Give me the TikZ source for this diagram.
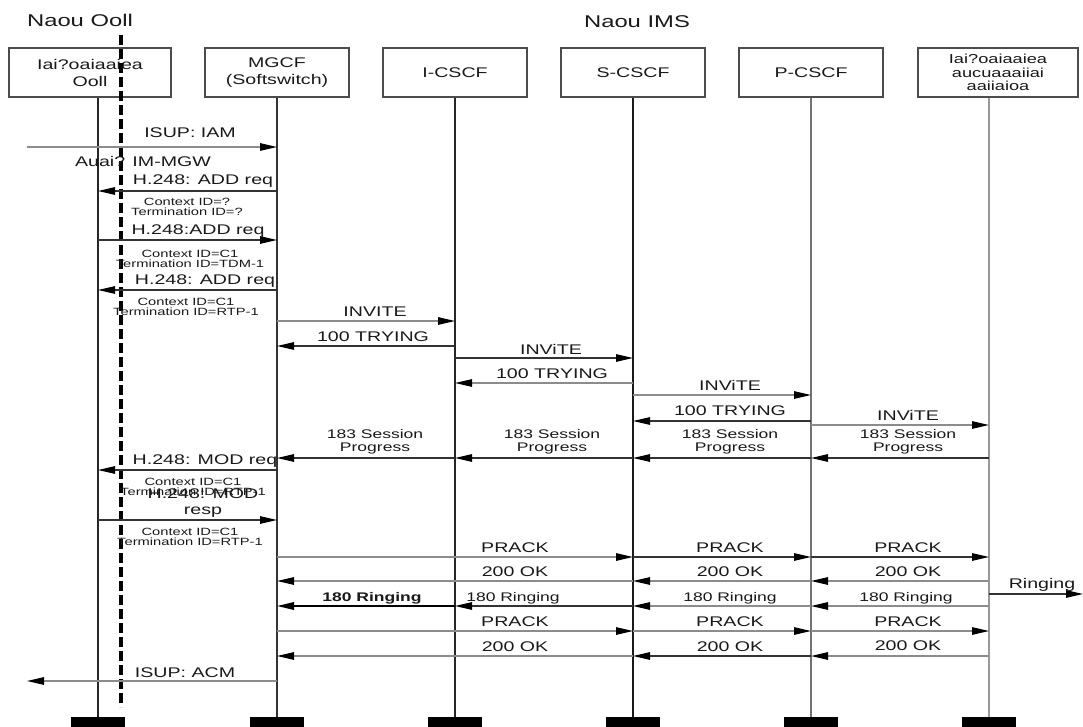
\documentclass[tikz,border=0pt]{standalone}
\usepackage{fontspec}
\setmainfont[FakeStretch=1.4]{Liberation Sans}
\usetikzlibrary{arrows.meta}
\begin{document}
\begin{tikzpicture}[x=1pt,y=-1pt,
  box/.style={draw=black!70, line width=1.3pt, fill=white, inner sep=0pt, align=center, font=\fontsize{14}{17}\selectfont, text=black!90},
  life/.style={line width=1.6pt},
  msg/.style={-{Triangle[length=17pt,width=7.5pt,color=black]}, line width=1.2pt, draw=black!80},
  msgg/.style={msg, draw=black!45},
  lbl/.style={font=\fontsize{14}{16}\selectfont, inner sep=0pt, align=center, text=black!90},
  sm/.style={font=\fontsize{10.5}{10}\selectfont, inner sep=0pt, align=center, text=black!90},
  md/.style={font=\fontsize{12.5}{13}\selectfont, inner sep=0pt, align=center, text=black!90},
  ttl/.style={font=\fontsize{17}{20}\selectfont, inner sep=0pt, text=black!90},
  bar/.style={fill=black, draw=none}]
\useasboundingbox (0,0) rectangle (1083,727);

% titles
\node[ttl] (t1) at (80,20) {Naou Ooll};
\node[ttl] (t2) at (637,22) {Naou IMS};

% boxes
\node[box, minimum width=162pt, minimum height=49pt] (bA) at (90,72.5) {Iai?oaiaaiea\\Ooll};
\node[box, minimum width=144pt, minimum height=49pt] (bM) at (277,72.5) {MGCF\\(Softswitch)};
\node[box, minimum width=144pt, minimum height=49pt] (bI) at (455,72.5) {I-CSCF};
\node[box, minimum width=144pt, minimum height=49pt] (bS) at (633,72.5) {S-CSCF};
\node[box, minimum width=144pt, minimum height=49pt] (bP) at (811,72.5) {P-CSCF};
\node[box, minimum width=160pt, minimum height=49pt, font=\fontsize{13}{13.5}\selectfont] (bU) at (998,72.5) {Iai?oaiaaiea\\aucuaaaiiai\\aaiiaioa};

% lifeline coordinates
\coordinate (LA) at (98,0);
\coordinate (LM) at (277,0);
\coordinate (LI) at (455,0);
\coordinate (LS) at (633,0);
\coordinate (LP) at (811,0);
\coordinate (LU) at (989,0);

% bottom bars
\foreach \n in {LA,LM,LI,LS,LP,LU}{
  \fill[bar] ([xshift=-27pt]\n |- 0,717) rectangle ([xshift=27pt]\n |- 0,727);
}
\coordinate (eA) at (LA |- 0,717);
\coordinate (eM) at (LM |- 0,717);
\coordinate (eI) at (LI |- 0,717);
\coordinate (eS) at (LS |- 0,717);
\coordinate (eP) at (LP |- 0,717);
\coordinate (eU) at (LU |- 0,717);

% lifelines
\draw[life, draw=black!85] (LA |- bA.south) -- (eA);
\draw[life, draw=black!80] (bM.south) -- (eM);
\draw[life, draw=black!85] (bI.south) -- (eI);
\draw[life, draw=black!90] (bS.south) -- (eS);
\draw[life, draw=black!55] (bP.south) -- (eP);
\draw[life, draw=black!40] (LU |- bU.south) -- (eU);

% dashed border
\coordinate (dTop) at (121,35);
\coordinate (dBot) at (121,707);
\draw[line width=3.5pt, dash pattern=on 10pt off 4pt] (dTop) -- (dBot);

% messages
\coordinate (inIAM) at (27,147);
\draw[msgg] (inIAM) -- (LM |- 0,147);
\node[lbl] (l1) at (190,133) {ISUP: IAM};
\node[lbl] (l2) at (143,161) {Auai? IM-MGW};

\draw[msg] (LM |- 0,191) -- (LA |- 0,191);
\node[lbl] (l3) at (203,181) {H.248: ADD req};
\node[sm] (l4) at (187,207) {Context ID=?\\Termination ID=?};

\draw[msg] (LA |- 0,240) -- (LM |- 0,240);
\node[lbl] (l5) at (198,231) {H.248:ADD req};
\node[sm] (l6) at (190,259) {Context ID=C1\\Termination ID=TDM-1};

\draw[msg] (LM |- 0,290) -- (LA |- 0,290);
\node[lbl] (l7) at (205,281) {H.248: ADD req};
\node[sm] (l8) at (186,307) {Context ID=C1\\Termination ID=RTP-1};

\draw[msgg] (LM |- 0,321) -- (LI |- 0,321);
\node[lbl] (l9) at (375,312) {INVITE};
\draw[msg] (LI |- 0,346) -- (LM |- 0,346);
\node[lbl] (l10) at (373,337) {100 TRYING};
\draw[msg] (LI |- 0,358) -- (LS |- 0,358);
\node[lbl] (l11) at (551,349) {INViTE};
\draw[msgg] (LS |- 0,383) -- (LI |- 0,383);
\node[lbl] (l12) at (552,374) {100 TRYING};
\draw[msgg] (LS |- 0,395) -- (LP |- 0,395);
\node[lbl] (l13) at (730,385) {INViTE};
\draw[msg] (LP |- 0,421) -- (LS |- 0,421);
\node[lbl] (l14) at (730,411) {100 TRYING};
\draw[msgg] (LP |- 0,425) -- (LU |- 0,425);
\node[lbl] (l15) at (908,415) {INViTE};

% 183 Session Progress
\draw[msg] (LU |- 0,458) -- (LP |- 0,458);
\draw[msg] (LP |- 0,458) -- (LS |- 0,458);
\draw[msg] (LS |- 0,458) -- (LI |- 0,458);
\draw[msg] (LI |- 0,458) -- (LM |- 0,458);
\node[md] (s1) at (908,442) {183 Session\\Progress};
\node[md] (s2) at (730,442) {183 Session\\Progress};
\node[md] (s3) at (552,442) {183 Session\\Progress};
\node[md] (s4) at (375,442) {183 Session\\Progress};

\draw[msg] (LM |- 0,470) -- (LA |- 0,470);
\node[lbl] (l17) at (205,461) {H.248: MOD req};
\node[sm] (l18) at (193,487) {Context ID=C1\\Termination ID=RTP-1};
\node[lbl] (l19) at (203,503) {H.248: MOD\\resp};
\draw[msg] (LA |- 0,520) -- (LM |- 0,520);
\node[sm] (l20) at (190,537) {Context ID=C1\\Termination ID=RTP-1};

% PRACK 1
\draw[msgg] (LM |- 0,557) -- (LS |- 0,557);
\draw[msg] (LS |- 0,557) -- (LP |- 0,557);
\draw[msg] (LP |- 0,557) -- (LU |- 0,557);
\node[lbl] (p1) at (515,548) {PRACK};
\node[lbl] (p2) at (730,548) {PRACK};
\node[lbl] (p3) at (908,548) {PRACK};

% 200 OK 1
\draw[msgg] (LU |- 0,581) -- (LP |- 0,581);
\draw[msgg] (LP |- 0,581) -- (LS |- 0,581);
\draw[msgg] (LS |- 0,581) -- (LM |- 0,581);
\node[lbl] (o1) at (908,572) {200 OK};
\node[lbl] (o2) at (730,572) {200 OK};
\node[lbl] (o3) at (515,572) {200 OK};

% Ringing out
\coordinate (outR) at (1083,594);
\draw[msg] (LU |- 0,594) -- (outR);
\node[lbl] (r0) at (1042,585) {Ringing};

% 180 Ringing
\draw[msgg] (LU |- 0,606) -- (LP |- 0,606);
\draw[msgg] (LP |- 0,606) -- (LS |- 0,606);
\draw[msg] (LS |- 0,606) -- (LI |- 0,606);
\draw[msg, line width=1.8pt, draw=black] (LI |- 0,606) -- (LM |- 0,606);
\node[md] (r1) at (906,598) {180 Ringing};
\node[md] (r2) at (730,598) {180 Ringing};
\node[md] (r3) at (513,598) {180 Ringing};
\node[md, font=\fontsize{12.5}{13}\selectfont\bfseries] (r4) at (372,598) {180 Ringing};

% PRACK 2
\draw[msgg] (LM |- 0,631) -- (LS |- 0,631);
\draw[msgg] (LS |- 0,631) -- (LP |- 0,631);
\draw[msgg] (LP |- 0,631) -- (LU |- 0,631);
\node[lbl] (q1) at (515,622) {PRACK};
\node[lbl] (q2) at (730,622) {PRACK};
\node[lbl] (q3) at (908,622) {PRACK};

% 200 OK 2
\draw[msgg] (LU |- 0,656) -- (LP |- 0,656);
\draw[msg] (LP |- 0,656) -- (LS |- 0,656);
\draw[msgg] (LS |- 0,656) -- (LM |- 0,656);
\node[lbl] (k1) at (908,646) {200 OK};
\node[lbl] (k2) at (730,647) {200 OK};
\node[lbl] (k3) at (515,647) {200 OK};

% ISUP ACM
\coordinate (outACM) at (27,681);
\draw[msgg] (LM |- 0,681) -- (outACM);
\node[lbl] (l27) at (185,673) {ISUP: ACM};
\end{tikzpicture}
\end{document}
